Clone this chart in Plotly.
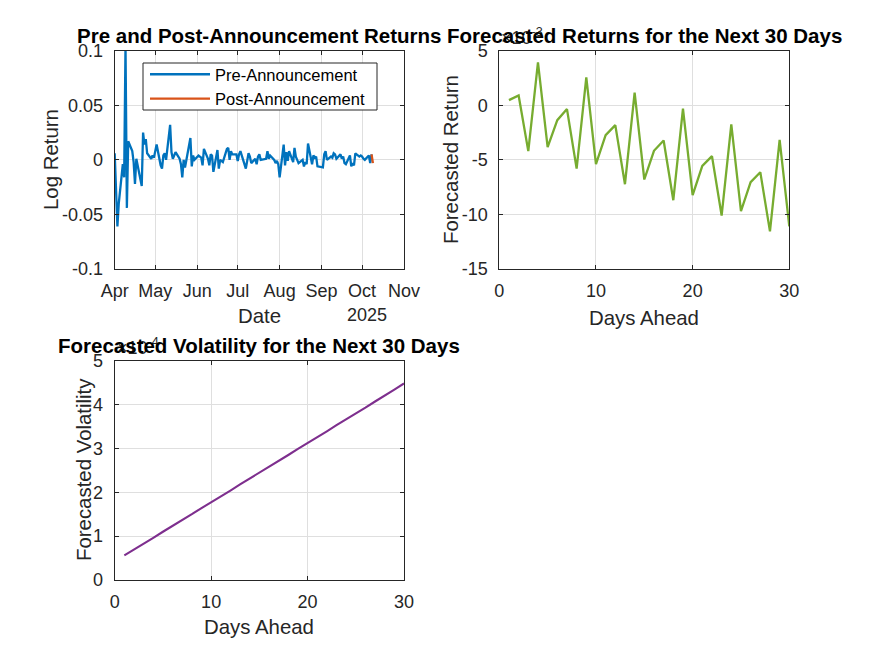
import pandas as pd
import plotly.graph_objects as go

# ---------------- data ----------------
PRE_START = "2025-04-01"
PRE_END = "2025-10-08"
HOLIDAYS = ["2025-04-18", "2025-05-26", "2025-06-19", "2025-07-04", "2025-09-01"]

PRE_RETURNS = [
    # April
    0.006, -0.035, -0.061, -0.040, -0.004, -0.016, 0.105, -0.044, 0.017, 0.008,
    -0.002, -0.022, 0.001, -0.024, 0.025, 0.014, 0.019, 0.006, 0.001, 0.004, 0.002,
    # May
    0.008, 0.014, -0.005, -0.008, 0.004, 0.006, 0.000, 0.032, 0.007, 0.001,
    0.004, 0.007, 0.001, -0.004, -0.016, 0.000, -0.007, 0.020, -0.006, 0.004, 0.000,
    # June
    0.004, 0.003, 0.002, -0.005, 0.010, 0.001, -0.005, 0.005, 0.004, -0.011,
    0.009, -0.008, 0.000, -0.002, 0.010, 0.011, 0.000, 0.008, 0.005, 0.005,
    # July
    -0.001, 0.005, 0.008, -0.008, -0.001, 0.006, 0.003, -0.003, 0.001, -0.004,
    0.003, 0.005, 0.000, 0.001, 0.001, 0.008, 0.001, 0.004, 0.000, -0.003, -0.001, -0.004,
    # August
    -0.016, 0.014, -0.005, 0.007, -0.001, 0.008, -0.002, 0.011, 0.003, 0.000,
    -0.003, 0.000, -0.006, -0.002, -0.004, 0.015, -0.004, 0.004, 0.002, 0.003, -0.006,
    # September
    -0.007, 0.005, 0.008, 0.000, 0.003, 0.002, 0.006, 0.005, 0.001, 0.005,
    0.001, 0.003, -0.003, -0.004, 0.004, -0.006, -0.003, -0.005, 0.006, 0.003, 0.004,
    # October
    0.003, 0.001, 0.000, 0.004, -0.003, 0.005,
]

POST_DATES = ["2025-10-08", "2025-10-09"]
POST_RETURNS = [0.005, -0.003]

MONTH_TICKS = ["2025-04-01", "2025-05-01", "2025-06-01", "2025-07-01",
               "2025-08-01", "2025-09-01", "2025-10-01", "2025-11-01"]
MONTH_LABELS = ["Apr", "May", "Jun", "Jul", "Aug", "Sep", "Oct", "Nov"]
YEAR_LABEL = "2025"

DAYS = list(range(1, 31))
# forecasted returns, in units of 1e-3
FORECAST_RETURNS_E3 = [0.47, 0.90, -4.20, 3.93, -3.84, -1.36, -0.35, -5.80, 2.55, -5.40,
                       -2.74, -1.82, -7.23, 1.15, -6.80, -4.17, -3.23, -8.70, -0.30, -8.24,
                       -5.55, -4.66, -10.10, -1.76, -9.70, -7.05, -6.13, -11.55, -3.17, -11.10]
# forecasted volatility, in units of 1e-4
FORECAST_VOL_E4 = [0.56, 0.69, 0.83, 0.96, 1.10, 1.23, 1.37, 1.50, 1.64, 1.77,
                   1.91, 2.04, 2.18, 2.31, 2.45, 2.58, 2.72, 2.85, 2.99, 3.12,
                   3.26, 3.39, 3.53, 3.66, 3.80, 3.93, 4.07, 4.20, 4.34, 4.48]

RET_TICKS_E3 = [-15, -10, -5, 0, 5]
VOL_TICKS_E4 = [0, 1, 2, 3, 4, 5]
LOG_TICKS = [-0.1, -0.05, 0, 0.05, 0.1]
LOG_TICK_TEXT = ["-0.1", "-0.05", "0", "0.05", "0.1"]
DAY_TICKS = [0, 10, 20, 30]

# ---------------- layout helpers ----------------
W, H = 875, 656
FONT = "Liberation Sans"
TXT = "#262626"


def fx(px):
    return px / W


def fy(py):
    return 1 - py / H


A1 = dict(x0=114.7, x1=404.0, y0=50.7, y1=269.0)
A2 = dict(x0=499.3, x1=789.3, y0=50.7, y1=269.0)
A3 = dict(x0=114.7, x1=404.0, y0=360.7, y1=580.0)

pre_dates = pd.bdate_range(PRE_START, PRE_END, freq="C", holidays=HOLIDAYS)
n = min(len(pre_dates), len(PRE_RETURNS))
pre_dates = pre_dates[:n]

fig = go.Figure()
fig.add_trace(go.Scatter(x=pre_dates, y=PRE_RETURNS[:n], mode="lines", name="Pre-Announcement",
                         line=dict(color="#0072BD", width=2.3), xaxis="x", yaxis="y"))
fig.add_trace(go.Scatter(x=pd.to_datetime(POST_DATES), y=POST_RETURNS, mode="lines",
                         name="Post-Announcement",
                         line=dict(color="#D95319", width=2.3), xaxis="x", yaxis="y"))
fig.add_trace(go.Scatter(x=DAYS, y=[v * 1e-3 for v in FORECAST_RETURNS_E3], mode="lines",
                         showlegend=False, line=dict(color="#77AC30", width=2.3),
                         xaxis="x2", yaxis="y2"))
fig.add_trace(go.Scatter(x=DAYS, y=[v * 1e-4 for v in FORECAST_VOL_E4], mode="lines",
                         showlegend=False, line=dict(color="#7E2F8E", width=2.1),
                         xaxis="x3", yaxis="y3"))

common = dict(showline=True, linecolor=TXT, linewidth=1, mirror="ticks", ticks="inside",
              ticklen=4, tickcolor=TXT, showgrid=True, gridcolor="#dfdfdf", gridwidth=1,
              zeroline=False, automargin=False,
              tickfont=dict(family=FONT, size=18, color=TXT))
xcommon = dict(common, ticklabelstandoff=5)
ycommon = dict(common, ticklabelstandoff=7)

fig.update_layout(
    template="none",
    width=W, height=H, autosize=False,
    margin=dict(l=0, r=0, t=0, b=0, pad=0),
    paper_bgcolor="white", plot_bgcolor="white",
    xaxis=dict(xcommon, domain=[fx(A1["x0"]), fx(A1["x1"])], anchor="y", type="date",
               range=[MONTH_TICKS[0], MONTH_TICKS[-1]], tickvals=MONTH_TICKS,
               ticktext=MONTH_LABELS),
    yaxis=dict(ycommon, domain=[fy(A1["y1"]), fy(A1["y0"])], anchor="x",
               range=[-0.1, 0.1], tickvals=LOG_TICKS, ticktext=LOG_TICK_TEXT),
    xaxis2=dict(xcommon, domain=[fx(A2["x0"]), fx(A2["x1"])], anchor="y2",
                range=[0, 30], tickvals=DAY_TICKS, ticktext=[str(t) for t in DAY_TICKS]),
    yaxis2=dict(ycommon, domain=[fy(A2["y1"]), fy(A2["y0"])], anchor="x2",
                range=[-15e-3, 5e-3], tickvals=[t * 1e-3 for t in RET_TICKS_E3],
                ticktext=[str(t) for t in RET_TICKS_E3]),
    xaxis3=dict(xcommon, domain=[fx(A3["x0"]), fx(A3["x1"])], anchor="y3",
                range=[0, 30], tickvals=DAY_TICKS, ticktext=[str(t) for t in DAY_TICKS]),
    yaxis3=dict(ycommon, domain=[fy(A3["y1"]), fy(A3["y0"])], anchor="x3",
                range=[0, 5e-4], tickvals=[t * 1e-4 for t in VOL_TICKS_E4],
                ticktext=[str(t) for t in VOL_TICKS_E4]),
    legend=dict(x=fx(145), y=fy(57), xanchor="left", yanchor="top",
                borderwidth=0, bgcolor="rgba(0,0,0,0)",
                font=dict(family=FONT, size=16.5, color="#000000"),
                itemwidth=60, tracegroupgap=0),
    showlegend=True,
    # legend frame (drawn above the data, below the legend entries)
    shapes=[dict(type="rect", xref="paper", yref="paper", x0=fx(143), x1=fx(377),
                 y0=fy(110), y1=fy(63), line=dict(color=TXT, width=1),
                 fillcolor="white", layer="above")],
)

ann = []
# exponent labels (drawn first so titles sit on top)
ann.append(dict(text="\u00d710<sup>-3</sup>", x=fx(A2["x0"]), y=fy(A2["y0"] - 1),
                xref="paper", yref="paper", xanchor="left", yanchor="bottom",
                showarrow=False, font=dict(family=FONT, size=18, color=TXT)))
ann.append(dict(text="\u00d710<sup>-4</sup>", x=fx(A3["x0"]), y=fy(A3["y0"] - 1),
                xref="paper", yref="paper", xanchor="left", yanchor="bottom",
                showarrow=False, font=dict(family=FONT, size=18, color=TXT)))
# secondary date label
ann.append(dict(text=YEAR_LABEL, x=fx(367), y=fy(315), xref="paper", yref="paper",
                xanchor="center", yanchor="middle", showarrow=False,
                font=dict(family=FONT, size=18, color=TXT)))
# axis titles
lab = dict(family=FONT, size=20.4, color=TXT)
ann += [
    dict(text="Log Return", x=fx(51), y=fy(160), textangle=-90),
    dict(text="Date", x=fx(259.4), y=fy(316)),
    dict(text="Forecasted Return", x=fx(451), y=fy(160), textangle=-90),
    dict(text="Days Ahead", x=fx(644.3), y=fy(318)),
    dict(text="Forecasted Volatility", x=fx(84), y=fy(470), textangle=-90),
    dict(text="Days Ahead", x=fx(259.4), y=fy(627)),
]
for a in ann[3:]:
    a.update(xref="paper", yref="paper", xanchor="center", yanchor="middle",
             showarrow=False, font=lab)
# titles
tfont = dict(family=FONT, size=20.5, color="#000000")
for text, ax, yb in [("Pre and Post-Announcement Returns", A1, 49),
                     ("Forecasted Returns for the Next 30 Days", A2, 49),
                     ("Forecasted Volatility for the Next 30 Days", A3, 359)]:
    ann.append(dict(text="<b>" + text + "</b>", x=fx((ax["x0"] + ax["x1"]) / 2), y=fy(yb),
                    xref="paper", yref="paper", xanchor="center", yanchor="bottom",
                    showarrow=False, font=tfont))
fig.update_layout(annotations=ann)

fig.write_html("out.html")
